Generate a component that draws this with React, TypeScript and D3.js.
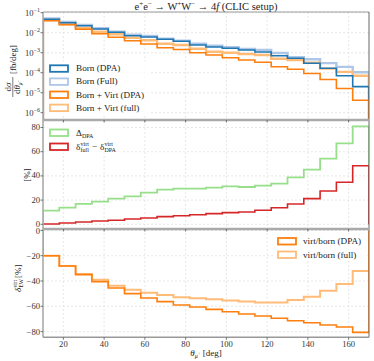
import React from 'react';
import * as d3 from 'd3';

const binEdges = [10, 18, 26, 34, 42, 50, 58, 66, 74, 82, 90, 98, 106, 114, 122, 130, 138, 146, 154, 162, 170];
const xTicks = [20, 40, 60, 80, 100, 120, 140, 160];
const topTicks = [-1, -2, -3, -4, -5, -6];
const midTicks = [0, 20, 40, 60, 80];
const botTicks = [0, -20, -40, -60, -80];

const bornDPA = [0.0468, 0.0316, 0.0224, 0.0153, 0.0105, 0.00708, 0.0061, 0.00468, 0.00372, 0.00243, 0.00193, 0.00166, 0.00136, 0.00108, 0.00071, 0.000525, 0.000295, 0.000166, 0.0000708, 0.0000202];
const bornFull = [0.0513, 0.0343, 0.0243, 0.0166, 0.0112, 0.00794, 0.00684, 0.00501, 0.00398, 0.00282, 0.00224, 0.00186, 0.00153, 0.00136, 0.000966, 0.000589, 0.000468, 0.000300, 0.000195, 0.000105];
const bvDPA = [0.0398, 0.0251, 0.0148, 0.00891, 0.00589, 0.00398, 0.00272, 0.00178, 0.00145, 0.001, 0.000767, 0.000562, 0.000432, 0.000331, 0.0002, 0.000148, 0.0000912, 0.0000457, 0.0000162, 0.0000042];
const bvFull = [0.0432, 0.0272, 0.0172, 0.0112, 0.00832, 0.00562, 0.00417, 0.00282, 0.00243, 0.00158, 0.00112, 0.001, 0.00086, 0.000767, 0.000501, 0.000432, 0.000316, 0.000160, 0.000110, 0.0000708];

const deltaDPA = [11.3, 13.8, 16.8, 18.7, 21.2, 23.1, 26.1, 28.6, 29.4, 29.4, 30.3, 31.4, 30.8, 31.9, 33.6, 38.8, 45.1, 54.2, 66.9, 80.9];
const deltaVirt = [0.25, 1.1, 1.9, 2.7, 3.3, 4.4, 5.2, 6.3, 7.1, 7.9, 8.8, 9.6, 10.2, 11.6, 13.7, 16.8, 21.2, 27.5, 34.7, 48.4];

const virtBornDPA = [-20, -28.1, -35, -40.5, -45.5, -50, -53.4, -56.3, -59, -60.6, -62.4, -64.3, -66.1, -67.7, -69.5, -71.4, -73, -74.8, -76.4, -80.6];
const virtBornFull = [-20, -28.1, -34.5, -39, -43.7, -46.9, -49.2, -51, -52.9, -53.7, -54.5, -55.5, -56.3, -56.9, -56.9, -55, -52.4, -47.7, -42.4, -32.1];

const C = {
  blue: '#1f77b4', lblue: '#aec7e8', orange: '#ff7f0e', lorange: '#ffbb78', green: '#98df8a', red: '#d62728',
};

const FONT = 'Liberation Serif, Times New Roman, serif';

const L = 43, R = 369;
const P1 = [12, 120], P2 = [120, 229], P3 = [229, 337.3];

const x = d3.scaleLinear().domain([10, 170]).range([L, R]);
const yTop = d3.scaleLog().domain([Math.pow(10, -6.365), Math.pow(10, -0.965)]).range([P1[1], P1[0]]);
const yMid = d3.scaleLinear().domain([-3.9, 86.2]).range([P2[1], P2[0]]);
const yBot = d3.scaleLinear().domain([-84.5, 1.1]).range([P3[1], P3[0]]);

function stepPath(vals: number[], y: (v: number) => number, base: number): string {
  const pts: [number, number][] = [];
  pts.push([x(binEdges[0]), base]);
  vals.forEach((v, i) => {
    pts.push([x(binEdges[i]), y(v)]);
    pts.push([x(binEdges[i + 1]), y(v)]);
  });
  pts.push([x(binEdges[binEdges.length - 1]), base]);
  return d3.line()(pts) || '';
}

function Swatch({ x0, y0, color }: { x0: number; y0: number; color: string }) {
  return <rect x={x0} y={y0 - 3} width={18} height={6.5} fill="white" stroke={color} strokeWidth={1.8} />;
}

export default function App() {
  const gridStyle = { stroke: '#dcdcdc', strokeWidth: 0.7, strokeDasharray: '2,2' };
  const tickFont = 8.6;
  const legFont = 9.2;
  return (
    <svg width={374} height={361} style={{ position: 'absolute', left: 0, top: 0, background: 'white' }} fontFamily={FONT}>
      <defs>
        <clipPath id="c1"><rect x={L} y={P1[0]} width={R - L} height={P1[1] - P1[0]} /></clipPath>
        <clipPath id="c2"><rect x={L} y={P2[0]} width={R - L} height={P2[1] - P2[0]} /></clipPath>
        <clipPath id="c3"><rect x={L} y={P3[0]} width={R - L} height={P3[1] - P3[0]} /></clipPath>
      </defs>

      {/* grids */}
      {[P1, P2, P3].map((p, k) => (
        <g key={'gx' + k}>
          {xTicks.map(t => <line key={t} x1={x(t)} x2={x(t)} y1={p[0]} y2={p[1]} {...gridStyle} />)}
        </g>
      ))}
      {topTicks.map(t => <line key={'gt' + t} x1={L} x2={R} y1={yTop(Math.pow(10, t))} y2={yTop(Math.pow(10, t))} {...gridStyle} />)}
      {midTicks.map(t => <line key={'gm' + t} x1={L} x2={R} y1={yMid(t)} y2={yMid(t)} {...gridStyle} />)}
      {botTicks.map(t => <line key={'gb' + t} x1={L} x2={R} y1={yBot(t)} y2={yBot(t)} {...gridStyle} />)}

      {/* top panel */}
      <g clipPath="url(#c1)" fill="none" strokeLinejoin="miter">
        <path d={stepPath(bornFull, yTop, P1[1] + 5)} stroke={C.lblue} strokeWidth={2.4} />
        <path d={stepPath(bvFull, yTop, P1[1] + 5)} stroke={C.lorange} strokeWidth={2.4} />
        <path d={stepPath(bornDPA, yTop, P1[1] + 5)} stroke={C.blue} strokeWidth={1.6} />
        <path d={stepPath(bvDPA, yTop, P1[1] + 5)} stroke={C.orange} strokeWidth={1.6} />
      </g>
      {/* mid panel */}
      <g clipPath="url(#c2)" fill="none">
        <path d={stepPath(deltaDPA, yMid, yMid(0))} stroke={C.green} strokeWidth={1.8} />
        <path d={stepPath(deltaVirt, yMid, yMid(0))} stroke={C.red} strokeWidth={1.6} />
      </g>
      {/* bottom panel */}
      <g clipPath="url(#c3)" fill="none">
        <path d={stepPath(virtBornFull, yBot, yBot(0))} stroke={C.lorange} strokeWidth={2} />
        <path d={stepPath(virtBornDPA, yBot, yBot(0))} stroke={C.orange} strokeWidth={1.6} />
      </g>

      {/* legends */}
      <g>
        <rect x={47} y={61} width={104} height={54} fill="white" opacity={0.8} />
        {[
          { c: C.blue, t: 'Born (DPA)' },
          { c: C.lblue, t: 'Born (Full)' },
          { c: C.orange, t: 'Born + Virt (DPA)' },
          { c: C.lorange, t: 'Born + Virt (full)' },
        ].map((e, i) => (
          <g key={e.t}>
            <Swatch x0={50} y0={68.3 + i * 13.1} color={e.c} />
            <text x={76} y={68.3 + i * 13.1 + 3} fontSize={legFont} fill="#222">{e.t}</text>
          </g>
        ))}
      </g>
      <g>
        <rect x={47} y={124} width={76} height={29} fill="white" opacity={0.8} />
        <Swatch x0={50} y0={132.5} color={C.green} />
        <text x={76} y={135.5} fontSize={legFont} fill="#222">Δ</text>
        <text x={82} y={138} fontSize={6} fill="#222">DPA</text>
        <Swatch x0={50} y0={146.5} color={C.red} />
        <text x={76} y={149.5} fontSize={legFont} fill="#222">δ</text>
        <text x={80.5} y={145.5} fontSize={6} fill="#222">virt</text>
        <text x={80.5} y={152} fontSize={6} fill="#222">full</text>
        <text x={92} y={149.5} fontSize={legFont} fill="#222">−</text>
        <text x={100} y={149.5} fontSize={legFont} fill="#222">δ</text>
        <text x={104.5} y={145.5} fontSize={6} fill="#222">virt</text>
        <text x={104.5} y={152} fontSize={6} fill="#222">DPA</text>
      </g>
      <g>
        <rect x={274} y={234} width={93} height={27} fill="white" opacity={0.8} />
        <Swatch x0={278} y0={241} color={C.orange} />
        <text x={303} y={244} fontSize={legFont} fill="#222">virt/born (DPA)</text>
        <Swatch x0={278} y0={254.5} color={C.lorange} />
        <text x={303} y={257.5} fontSize={legFont} fill="#222">virt/born (full)</text>
      </g>

      {/* spines */}
      <line x1={L} x2={R} y1={P1[0]} y2={P1[0]} stroke="#999" strokeWidth={1} />
      <line x1={R} x2={R} y1={P1[0]} y2={P3[1]} stroke="#666" strokeWidth={1} />
      <line x1={L} x2={L} y1={P1[0]} y2={P3[1]} stroke="#aaa" strokeWidth={1.6} />
      <line x1={L} x2={R} y1={P2[0]} y2={P2[0]} stroke="#aaa" strokeWidth={2.6} />
      <line x1={L} x2={R} y1={P3[0]} y2={P3[0]} stroke="#aaa" strokeWidth={2.6} />
      <line x1={L} x2={R} y1={P3[1]} y2={P3[1]} stroke="#999" strokeWidth={1.4} />

      {/* x ticks */}
      {[P1[1], P2[1], P3[1]].map((yy, k) => (
        <g key={'xt' + k}>
          {xTicks.map(t => <line key={t} x1={x(t)} x2={x(t)} y1={yy} y2={yy + 2.5} stroke="#555" strokeWidth={0.8} />)}
        </g>
      ))}
      {xTicks.map(t => (
        <text key={'xl' + t} x={x(t)} y={347} fontSize={tickFont} textAnchor="middle" fill="#333">{t}</text>
      ))}

      {/* y ticks */}
      {topTicks.map(t => (
        <g key={'ytl' + t}>
          <line x1={L - 2.5} x2={L} y1={yTop(Math.pow(10, t))} y2={yTop(Math.pow(10, t))} stroke="#555" strokeWidth={0.8} />
          <text x={40} y={yTop(Math.pow(10, t)) + 3} fontSize={tickFont} textAnchor="end" fill="#333">
            <tspan>10</tspan><tspan dy={-3.5} fontSize={6}>{'−' + Math.abs(t)}</tspan>
          </text>
        </g>
      ))}
      {midTicks.map(t => (
        <g key={'yml' + t}>
          <line x1={L - 2.5} x2={L} y1={yMid(t)} y2={yMid(t)} stroke="#555" strokeWidth={0.8} />
          <text x={40} y={yMid(t) + 2.5} fontSize={tickFont} textAnchor="end" fill="#333">{t}</text>
        </g>
      ))}
      {botTicks.map(t => (
        <g key={'ybl' + t}>
          <line x1={L - 2.5} x2={L} y1={yBot(t)} y2={yBot(t)} stroke="#555" strokeWidth={0.8} />
          <text x={40} y={yBot(t) + (t === 0 ? 4 : 3)} fontSize={tickFont} textAnchor="end" fill="#333">{t < 0 ? '−' + Math.abs(t) : t}</text>
        </g>
      ))}

      {/* title */}
      <text x={(L + R) / 2} y={9.5} fontSize={10.5} textAnchor="middle" fill="#222">
        <tspan>e</tspan><tspan dy={-3.5} fontSize={7}>+</tspan><tspan dy={3.5}>e</tspan><tspan dy={-3.5} fontSize={7}>−</tspan>
        <tspan dy={3.5}> → W</tspan><tspan dy={-3.5} fontSize={7}>+</tspan><tspan dy={3.5}>W</tspan><tspan dy={-3.5} fontSize={7}>−</tspan>
        <tspan dy={3.5}> → 4</tspan><tspan fontStyle="italic">f</tspan><tspan> (CLIC setup)</tspan>
      </text>

      {/* x label */}
      <text x={(L + R) / 2} y={355.5} fontSize={9} textAnchor="middle" fill="#222">
        <tspan fontStyle="italic">θ</tspan><tspan dy={2} fontSize={6} fontStyle="italic">μ</tspan><tspan dy={-3} fontSize={5}>+</tspan><tspan dy={1}> [deg]</tspan>
      </text>

      {/* top y label */}
      <g transform="translate(0,70) rotate(-90)" fill="#222">
        <text x={-17} y={11} fontSize={9} textAnchor="middle"><tspan>d</tspan><tspan fontStyle="italic">σ</tspan></text>
        <line x1={-27} x2={-7} y1={12.8} y2={12.8} stroke="#222" strokeWidth={0.6} />
        <text x={-17} y={19.5} fontSize={9} textAnchor="middle"><tspan>d</tspan><tspan fontStyle="italic">θ</tspan><tspan dy={2} fontSize={5.5} fontStyle="italic">μ</tspan><tspan dy={-2} fontSize={4.5}>+</tspan></text>
        <text x={-4} y={15.5} fontSize={9}>[fb/deg]</text>
      </g>
      {/* mid y label */}
      <g transform="translate(30,175) rotate(-90)" fill="#222">
        <text x={0} y={0} fontSize={9} textAnchor="middle">[%]</text>
      </g>
      {/* bottom y label */}
      <g transform="translate(21,292) rotate(-90)" fill="#222">
        <text x={0} y={0} fontSize={9} fontStyle="italic">δ</text>
        <text x={4.5} y={-3.8} fontSize={5.5}>virt</text>
        <text x={4.5} y={2.2} fontSize={5.5}>EW</text>
        <text x={14} y={0} fontSize={9}>[%]</text>
      </g>
    </svg>
  );
}
